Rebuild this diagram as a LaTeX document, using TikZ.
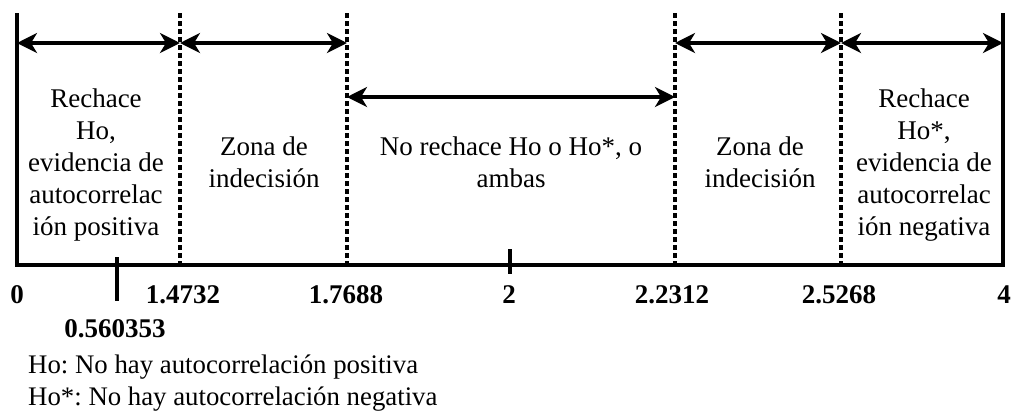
\documentclass[tikz,border=0pt]{standalone}
\usepackage{fontspec}
\setmainfont{Liberation Serif}
\usetikzlibrary{arrows.meta}
\frenchspacing
\begin{document}
\begin{tikzpicture}[x=1pt,y=-1pt,
  solidline/.style={line width=3.3pt, line join=miter},
  dotline/.style={line width=3.4pt, dash pattern=on 5pt off 3pt},
  dblarrow/.style={line width=3.3pt, {Stealth[length=20pt,width=20pt,inset=6pt]}-{Stealth[length=20pt,width=20pt,inset=6pt]}},
  regiontext/.style={anchor=north, align=center, inner sep=0pt, font=\fontsize{27}{32}\selectfont},
  numlabel/.style={anchor=base, inner sep=0pt, font=\fontsize{27}{32}\selectfont\bfseries},
  legendtext/.style={anchor=base west, inner sep=0pt, font=\fontsize{26.8}{32}\selectfont}]
\useasboundingbox (0,0) rectangle (1011,413);
% frame coordinates
\coordinate (Ltop) at (17,13);
\coordinate (Lbot) at (17,265);
\coordinate (Rtop) at (1003,13);
\coordinate (Rbot) at (1003,265);
\coordinate (D1top) at (180,13);  \coordinate (D1bot) at (180,265);
\coordinate (D2top) at (347,13);  \coordinate (D2bot) at (347,265);
\coordinate (D3top) at (675,13);  \coordinate (D3bot) at (675,265);
\coordinate (D4top) at (841,13);  \coordinate (D4bot) at (841,265);
% arrow ends
\coordinate (A0) at (17,43);
\coordinate (A1) at (180,43);
\coordinate (A2) at (347,43);
\coordinate (A3) at (675,43);
\coordinate (A4) at (841,43);
\coordinate (A5) at (1003,43);
\coordinate (M1) at (347,97);
\coordinate (M2) at (675,97);
% ticks
\coordinate (T1a) at (117,257); \coordinate (T1b) at (117,301);
\coordinate (T2a) at (510,249); \coordinate (T2b) at (510,274);

% dotted boundaries
\draw[dotline] (D1top) -- (D1bot);
\draw[dotline] (D2top) -- (D2bot);
\draw[dotline] (D3top) -- (D3bot);
\draw[dotline] (D4top) -- (D4bot);
% frame and axis
\draw[solidline] (Ltop) -- (Lbot) -- (Rbot) -- (Rtop);
\draw[solidline] (T1a) -- (T1b);
\draw[solidline] (T2a) -- (T2b);
% arrows
\draw[dblarrow] (A0) -- (A1);
\draw[dblarrow] (A1) -- (A2);
\draw[dblarrow] (A3) -- (A4);
\draw[dblarrow] (A4) -- (A5);
\draw[dblarrow] (M1) -- (M2);

% region texts
\node[regiontext] (r1) at (96,84.6) {\strut Rechace\\Ho,\\evidencia de\\autocorrelac\\ión positiva};
\node[regiontext] (r2) at (264,133.1) {\strut Zona de\\indecisión};
\node[regiontext] (r3) at (511,133.1) {\strut No rechace Ho o Ho*, o\\ambas};
\node[regiontext] (r4) at (760,133.1) {\strut Zona de\\indecisión};
\node[regiontext] (r5) at (924,84.6) {\strut Rechace\\Ho*,\\evidencia de\\autocorrelac\\ión negativa};

% axis labels
\node[numlabel] (n0) at (17,303) {0};
\node[numlabel] (n1) at (183,303) {1.4732};
\node[numlabel] (n2) at (346,303) {1.7688};
\node[numlabel] (n3) at (509,303) {2};
\node[numlabel] (n4) at (672,303) {2.2312};
\node[numlabel] (n5) at (839,303) {2.5268};
\node[numlabel] (n6) at (1004,303) {4};
\node[numlabel] (n7) at (115,337) {0.560353};

% legend
\node[legendtext] (lg1) at (28,373) {Ho: No hay autocorrelación positiva};
\node[legendtext] (lg2) at (28,405) {Ho*: No hay autocorrelación negativa};
\end{tikzpicture}
\end{document}
